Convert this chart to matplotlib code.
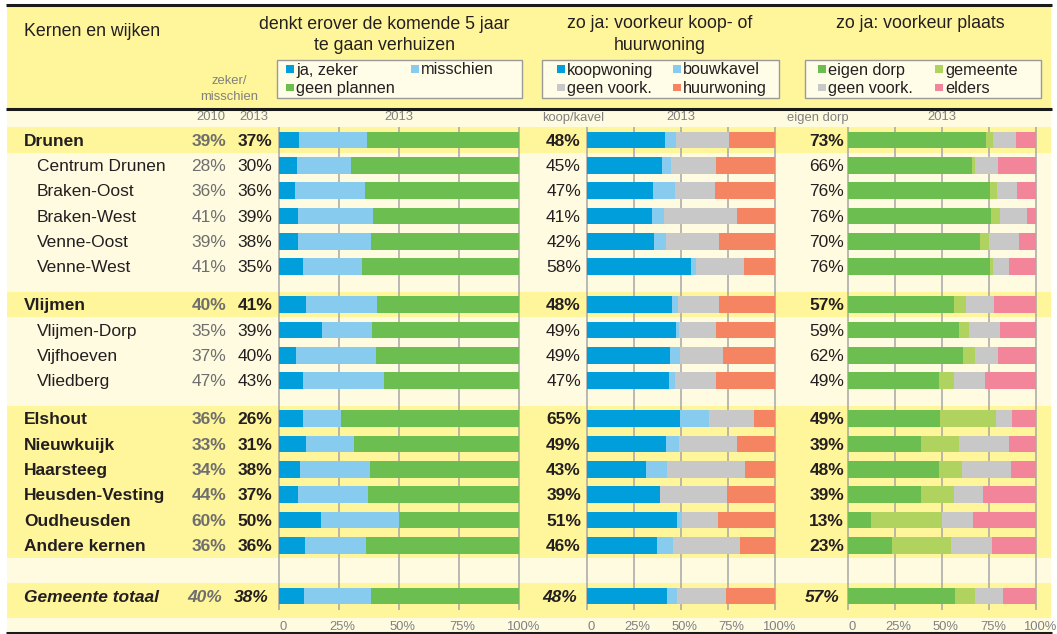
import matplotlib.pyplot as plt
import matplotlib.transforms as mtransforms
from matplotlib.patches import Rectangle
import numpy as np

plt.rcParams["font.family"] = ["Liberation Sans", "DejaVu Sans"]

# Rows of the table
names = [
    "Drunen", "Centrum Drunen", "Braken-Oost", "Braken-West", "Venne-Oost", "Venne-West",
    "Vlijmen", "Vlijmen-Dorp", "Vijfhoeven", "Vliedberg",
    "Elshout", "Nieuwkuijk", "Haarsteeg", "Heusden-Vesting", "Oudheusden", "Andere kernen",
    "Gemeente totaal",
]
kinds = [
    "kern", "wijk", "wijk", "wijk", "wijk", "wijk",
    "kern", "wijk", "wijk", "wijk",
    "kern", "kern", "kern", "kern", "kern", "kern",
    "totaal",
]
# extra empty space (in rows) above a row
gap_before = [0, 0, 0, 0, 0, 0, 0.5, 0, 0, 0, 0.5, 0, 0, 0, 0, 0, 1.0]

# printed percentages
zeker_misschien_2010 = [39, 28, 36, 41, 39, 41, 40, 35, 37, 47, 36, 33, 34, 44, 60, 36, 40]
zeker_misschien_2013 = [37, 30, 36, 39, 38, 35, 41, 39, 40, 43, 26, 31, 38, 37, 50, 36, 38]
koop_kavel = [48, 45, 47, 41, 42, 58, 48, 49, 49, 47, 65, 49, 43, 39, 51, 46, 48]
eigen_dorp_label = [73, 66, 76, 76, 70, 76, 57, 59, 62, 49, 49, 39, 48, 39, 13, 23, 57]

# denkt erover de komende 5 jaar te gaan verhuizen (2013)
ja_zeker = [8.6, 7.6, 6.8, 8.1, 8.1, 10.3, 11.4, 18.1, 7.2, 10.1, 10.0, 11.4, 9.0, 8.1, 17.6, 10.8, 10.4]
misschien = [28.1, 22.7, 29.0, 31.1, 30.4, 24.4, 29.6, 20.8, 33.4, 33.6, 16.0, 19.8, 29.1, 29.0, 32.4, 25.4, 27.9]
geen_plannen = [63.3, 69.7, 64.2, 60.8, 61.5, 65.3, 59.0, 61.1, 59.4, 56.3, 74.0, 68.8, 61.9, 62.9, 50.0, 63.8, 61.7]

# zo ja: voorkeur koop- of huurwoning (2013)
koopwoning = [41.7, 40.1, 35.3, 34.8, 35.8, 55.5, 45.2, 47.3, 44.5, 44.0, 49.8, 42.4, 31.6, 39.0, 48.0, 37.4, 42.9]
bouwkavel = [5.8, 4.6, 11.9, 6.5, 6.6, 2.8, 3.6, 1.6, 5.1, 3.2, 15.3, 6.7, 11.3, 0.0, 2.7, 8.5, 5.1]
geen_voork_woning = [28.0, 23.9, 21.1, 38.5, 28.0, 25.4, 21.4, 19.9, 23.1, 21.6, 24.1, 30.9, 41.5, 35.8, 19.2, 35.7, 26.1]
huurwoning = [24.5, 31.4, 31.7, 20.2, 29.6, 16.3, 29.8, 31.2, 27.3, 31.2, 10.8, 20.0, 15.6, 25.2, 30.1, 18.4, 25.9]

# zo ja: voorkeur plaats (2013)
eigen_dorp = [73.6, 66.2, 75.8, 76.1, 70.4, 75.8, 56.5, 59.1, 61.2, 48.7, 48.8, 39.1, 48.5, 38.9, 12.4, 23.5, 57.0]
gemeente = [3.4, 1.6, 3.5, 4.8, 4.8, 1.4, 6.5, 5.5, 6.4, 7.6, 30.0, 20.0, 12.2, 17.7, 37.7, 31.5, 10.6]
geen_voork_plaats = [12.4, 11.8, 10.6, 14.5, 15.8, 8.3, 14.7, 16.3, 12.2, 16.6, 8.6, 26.6, 25.8, 15.3, 16.3, 21.5, 14.9]
elders = [10.6, 20.4, 10.1, 4.6, 9.0, 14.5, 22.3, 19.1, 20.2, 27.1, 12.6, 14.3, 13.5, 28.1, 33.6, 23.5, 17.5]

ticks = [0, 25, 50, 75, 100]
tick_labels = ["0", "25%", "50%", "75%", "100%"]

# colours
BLUE = "#009edb"
LIGHTBLUE = "#87cbee"
GREEN = "#6dbe50"
LIGHTGREEN = "#b0d360"
GREY_BAR = "#c8c8c8"
SALMON = "#f58462"
PINK = "#f2859a"
YELLOW = "#fff59b"
CREAM = "#fffbe1"
TEXT = "#231f20"
GREY_VAL = "#6e6e6e"
GREY_SMALL = "#808080"

W, H = 1057, 634
Y0, PITCH = 140, 25.33  # pixel centre of first row, row pitch
FS, FS_TITLE, FS_LEG, FS_SMALL = 12.5, 12.8, 11.7, 9.4
DY = 1.2  # small downward nudge so glyphs sit centred on the row

pos = np.cumsum(1 + np.array(gap_before)) - 1


def py(p):
    return Y0 + PITCH * p


fig = plt.figure(figsize=(W / 100, H / 100), dpi=100)
bg = fig.add_axes([0, 0, 1, 1])
bg.set_xlim(0, W)
bg.set_ylim(H, 0)
bg.axis("off")

# background bands
bg.add_patch(Rectangle((7, 5), 1044, 103, fc=YELLOW, lw=0))
bg.add_patch(Rectangle((7, 108), 1044, 524, fc=CREAM, lw=0))
for p, kind in zip(pos, kinds):
    if kind == "kern":
        bg.add_patch(Rectangle((7, py(p - 0.5)), 1044, PITCH, fc=YELLOW, lw=0))
    elif kind == "totaal":
        bg.add_patch(Rectangle((7, py(p - 0.5)), 1044, 617.5 - py(p - 0.5), fc=YELLOW, lw=0))
for y in [4.5, 108.5, 632.5]:
    bg.plot([6, 1052], [y, y], color="#1a1a1a", lw=2.2, solid_capstyle="butt")

# header texts
bg.text(24, 32, "Kernen en wijken", fontsize=FS_TITLE, color=TEXT, va="center")
bg.text(384, 24.5, "denkt erover de komende 5 jaar", fontsize=FS_TITLE, color=TEXT, ha="center", va="center")
bg.text(384, 45.5, "te gaan verhuizen", fontsize=FS_TITLE, color=TEXT, ha="center", va="center")
bg.text(660, 24, "zo ja: voorkeur koop- of", fontsize=FS_TITLE, color=TEXT, ha="center", va="center")
bg.text(660, 45.5, "huurwoning", fontsize=FS_TITLE, color=TEXT, ha="center", va="center")
bg.text(920, 24, "zo ja: voorkeur plaats", fontsize=FS_TITLE, color=TEXT, ha="center", va="center")
bg.text(229, 80.5, "zeker/", fontsize=FS_SMALL, color=GREY_SMALL, ha="center", va="center")
bg.text(229, 97, "misschien", fontsize=FS_SMALL, color=GREY_SMALL, ha="center", va="center")

for x, label in [(225, "2010"), (268, "2013")]:
    bg.text(x, 117.5, label, fontsize=FS_SMALL, color=GREY_SMALL, ha="right", va="center")
for x, label in [(398.7, "2013"), (573, "koop/kavel"), (681, "2013"), (818, "eigen dorp"), (942, "2013")]:
    bg.text(x, 117.5, label, fontsize=FS_SMALL, color=GREY_SMALL, ha="center", va="center")


def legend_box(x0, x1, items):
    bg.add_patch(Rectangle((x0, 59.5), x1 - x0, 38, fc="#fffce8", ec="#9a9a9a", lw=1))
    for mx, my, label, color in items:
        bg.add_patch(Rectangle((mx, my - 3.7), 7.5, 7.5, fc=color, lw=0))
        bg.text(mx + 10, my + 1, label, fontsize=FS_LEG, color=TEXT, va="center")


legend_box(277, 522, [(286, 69, "ja, zeker", BLUE), (411, 69, "misschien", LIGHTBLUE),
                      (286, 87.3, "geen plannen", GREEN)])
legend_box(542, 779, [(557, 69, "koopwoning", BLUE), (673, 69, "bouwkavel", LIGHTBLUE),
                      (557, 87.3, "geen voork.", GREY_BAR), (673, 87.3, "huurwoning", SALMON)])
legend_box(805, 1041, [(818, 69, "eigen dorp", GREEN), (935, 69, "gemeente", LIGHTGREEN),
                       (818, 87.3, "geen voork.", GREY_BAR), (935, 87.3, "elders", PINK)])

# row labels and printed values
for i, (p, kind) in enumerate(zip(pos, kinds)):
    y = py(p) + DY
    weight = "normal" if kind == "wijk" else "bold"
    style = "italic" if kind == "totaal" else "normal"
    shift = -4 if kind == "totaal" else 0
    bg.text(37 if kind == "wijk" else 24, y, names[i], fontsize=FS, color=TEXT,
            weight=weight, style=style, va="center")
    bg.text(226 + shift, y, f"{zeker_misschien_2010[i]}%", fontsize=FS, color=GREY_VAL,
            weight=weight, style=style, ha="right", va="center")
    for x, vals in [(272.5, zeker_misschien_2013), (581, koop_kavel), (844, eigen_dorp_label)]:
        bg.text(x + shift, y, f"{vals[i]}%", fontsize=FS, color=TEXT,
                weight=weight, style=style, ha="right", va="center")

# stacked bar panels
panels = [
    (278.7, 518.7, [ja_zeker, misschien, geen_plannen], [BLUE, LIGHTBLUE, GREEN]),
    (586.7, 774.7, [koopwoning, bouwkavel, geen_voork_woning, huurwoning], [BLUE, LIGHTBLUE, GREY_BAR, SALMON]),
    (847.7, 1036.0, [eigen_dorp, gemeente, geen_voork_plaats, elders], [GREEN, LIGHTGREEN, GREY_BAR, PINK]),
]
top_px, bot_px = 126.7, 610
offset = mtransforms.ScaledTranslation(4 / 100, 0, fig.dpi_scale_trans)
for x0, x1, series, colors in panels:
    ax = fig.add_axes([x0 / W, 1 - bot_px / H, (x1 - x0) / W, (bot_px - top_px) / H])
    ax.set_xlim(0, 100)
    ymax, ymin = (bot_px - Y0) / PITCH, (top_px - Y0) / PITCH
    ax.set_ylim(ymax, ymin)
    ax.vlines(ticks, ymin, ymax, colors="#a6a6a6", lw=1.1, zorder=1, clip_on=False)
    left = np.zeros(len(names))
    for vals, c in zip(series, colors):
        ax.barh(pos, vals, left=left, height=0.66, color=c, lw=0, zorder=2)
        left += np.array(vals)
    ax.patch.set_visible(False)
    for s in ax.spines.values():
        s.set_visible(False)
    ax.set_yticks([])
    ax.set_xticks(ticks, tick_labels)
    ax.tick_params(axis="x", length=0, pad=8, labelsize=FS_SMALL, labelcolor=GREY_SMALL)
    for lab in ax.get_xticklabels():
        lab.set_transform(lab.get_transform() + offset)

fig.savefig("out.png", dpi=100)
